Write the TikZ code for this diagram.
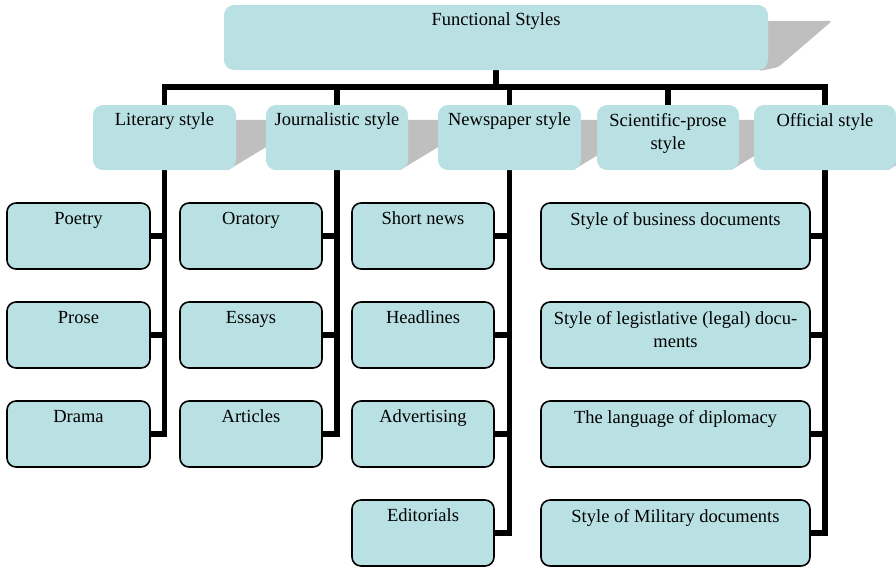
\documentclass[tikz,border=0pt]{standalone}
\usepackage{fontspec}
\setmainfont{Liberation Serif}
\usetikzlibrary{calc}
\pgfdeclarelayer{bg}
\pgfsetlayers{bg,main}
\definecolor{boxfill}{RGB}{185,224,227}
\definecolor{shade}{RGB}{191,191,191}
\begin{document}
\begin{tikzpicture}[x=1pt,y=-1pt,
  headbox/.style={fill=boxfill, rounded corners=10pt, minimum width=#1, minimum height=65pt, inner sep=0pt},
  subbox/.style={fill=boxfill, draw=black, line width=1.6pt, rounded corners=9pt, minimum width=#1, minimum height=66pt, inner sep=0pt},
  txt/.style={font=\fontsize{18.5}{23}\selectfont, inner sep=0pt, anchor=north, align=center, text=black},
  conn/.style={draw=black, line width=5.5pt, line cap=rect},
  shadowfill/.style={fill=shade, rounded corners=3pt}
]
\useasboundingbox (0,0) rectangle (896,566);

% top
\node[headbox=544] (fs) at (496,37.5) {};
\node[txt] (fsT) at ($(fs.north)+(0,8)$) {Functional Styles};

% level 1
\node[headbox=143] (lit)  at (164.5,137.5) {};
\node[headbox=142] (jour) at (337,137.5) {};
\node[headbox=143] (news) at (509.5,137.5) {};
\node[headbox=142] (sci)  at (668,137.5) {};
\node[headbox=142] (off)  at (825,137.5) {};
\node[txt] (litT)  at ($(lit.north)+(0,8)$)  {Literary style};
\node[txt] (jourT) at ($(jour.north)+(0,8)$) {Journalistic style};
\node[txt] (newsT) at ($(news.north)+(0,8)$) {Newspaper style};
\node[txt] (sciT)  at ($(sci.north)+(0,8)$)  {Scientific-prose\\style};
\node[txt] (offT)  at ($(off.north)+(0,8)$)  {Official style};

% level 2, column 1
\node[subbox=143] (poetry) at (78.5,236) {};
\node[subbox=143] (prose)  at (78.5,335) {};
\node[subbox=143] (drama)  at (78.5,434) {};
% column 2
\node[subbox=142] (orat)  at (251,236) {};
\node[subbox=142] (essay) at (251,335) {};
\node[subbox=142] (artic) at (251,434) {};
% column 3
\node[subbox=142] (shortn) at (423,236) {};
\node[subbox=142] (headl)  at (423,335) {};
\node[subbox=142] (advert) at (423,434) {};
\node[subbox=142] (edit)   at (423,533) {};
% column 4
\node[subbox=269] (busin) at (675.5,236) {};
\node[subbox=269] (legis) at (675.5,335) {};
\node[subbox=269] (diplo) at (675.5,434) {};
\node[subbox=269] (milit) at (675.5,533) {};

\node[txt] at ($(poetry.north)+(0,9.7)$) {Poetry};
\node[txt] at ($(prose.north)+(0,9.7)$)  {Prose};
\node[txt] at ($(drama.north)+(0,9.7)$)  {Drama};
\node[txt] at ($(orat.north)+(0,9.7)$)   {Oratory};
\node[txt] at ($(essay.north)+(0,9.7)$)  {Essays};
\node[txt] at ($(artic.north)+(0,9.7)$)  {Articles};
\node[txt] at ($(shortn.north)+(0,9.7)$) {Short news};
\node[txt] at ($(headl.north)+(0,9.7)$)  {Headlines};
\node[txt] at ($(advert.north)+(0,9.7)$) {Advertising};
\node[txt] at ($(edit.north)+(0,9.7)$)   {Editorials};
\node[txt] at ($(busin.north)+(0,9.7)$)  {Style of business documents};
\node[txt] at ($(legis.north)+(0,9.7)$)  {Style of legistlative (legal) docu-\\ments};
\node[txt] at ($(diplo.north)+(0,9.7)$)  {The language of diplomacy};
\node[txt] at ($(milit.north)+(0,9.7)$)  {Style of Military documents};

\coordinate (busL) at (164.5,87);
\coordinate (busR) at (825,87);

\begin{pgfonlayer}{bg}
  % shadows
  \fill[shadowfill] ($(fs.north east)+(-10,16)$) -- ($(fs.north east)+(64,16)$) -- ($(fs.south east)+(10,-3)$) -- ($(fs.south east)+(-10,1)$) -- cycle;
  \foreach \b in {lit,jour,news,sci,off}{
    \fill[shadowfill] ($(\b.north east)+(-10,15)$) -- ($(\b.north east)+(75,15)$) -- ($(\b.south east)+(-10,1)$) -- cycle;
  }
  % trunk and bus
  \draw[conn] (fs.south) -- (fs.south |- busL);
  \draw[conn] (busL) -- (busR);
  % literary
  \draw[conn] (lit.center |- busL) -- (lit.center |- drama.east) -- (drama.east);
  \draw[conn] (poetry.east) -- (poetry.east -| lit.center);
  \draw[conn] (prose.east) -- (prose.east -| lit.center);
  % journalistic
  \draw[conn] (jour.center |- busL) -- (jour.center |- artic.east) -- (artic.east);
  \draw[conn] (orat.east) -- (orat.east -| jour.center);
  \draw[conn] (essay.east) -- (essay.east -| jour.center);
  % newspaper
  \draw[conn] (news.center |- busL) -- (news.center |- edit.east) -- (edit.east);
  \draw[conn] (shortn.east) -- (shortn.east -| news.center);
  \draw[conn] (headl.east) -- (headl.east -| news.center);
  \draw[conn] (advert.east) -- (advert.east -| news.center);
  % scientific
  \draw[conn] (sci.center |- busL) -- (sci.center);
  % official
  \draw[conn] (off.center |- busL) -- (off.center |- milit.east) -- (milit.east);
  \draw[conn] (busin.east) -- (busin.east -| off.center);
  \draw[conn] (legis.east) -- (legis.east -| off.center);
  \draw[conn] (diplo.east) -- (diplo.east -| off.center);
\end{pgfonlayer}
\end{tikzpicture}
\end{document}
